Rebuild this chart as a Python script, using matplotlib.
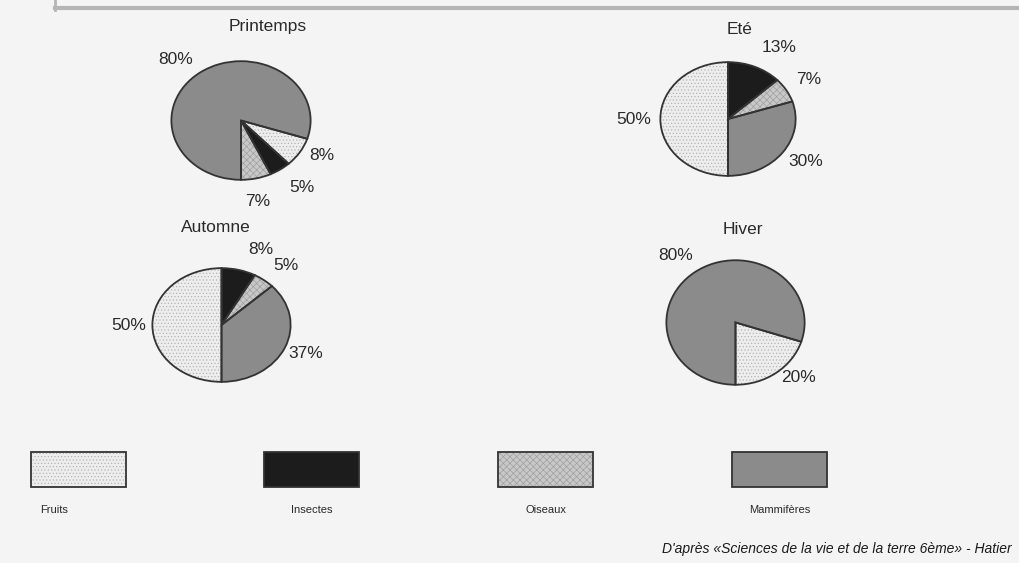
import matplotlib.pyplot as plt
import matplotlib as mpl

# Diet of the animal by season (percent)
categories = ['Fruits', 'Insectes', 'Oiseaux', 'Mammifères']
seasons = ['Printemps', 'Eté', 'Automne', 'Hiver']
printemps = [8, 5, 7, 80]
ete = [50, 13, 7, 30]
automne = [50, 8, 5, 37]
hiver = [20, 0, 0, 80]
source = "D'après «Sciences de la vie et de la terre 6ème» - Hatier"

W, H = 1019, 563
mpl.rcParams['font.family'] = ['Liberation Sans', 'DejaVu Sans']
mpl.rcParams['hatch.linewidth'] = 0.45

face = {'Fruits': '#ededed', 'Insectes': '#1c1c1c',
        'Oiseaux': '#c8c8c8', 'Mammifères': '#8b8b8b'}
hatch = {'Fruits': '.....', 'Insectes': None, 'Oiseaux': 'xxxxx', 'Mammifères': None}
hatch_col = {'Fruits': '#b0b0b0', 'Insectes': '#1c1c1c',
             'Oiseaux': '#9c9c9c', 'Mammifères': '#8b8b8b'}

fig = plt.figure(figsize=(W / 100, H / 100), dpi=100, facecolor='#f4f4f4')
ax0 = fig.add_axes([0, 0, 1, 1])
ax0.set_xlim(0, W)
ax0.set_ylim(H, 0)
ax0.axis('off')

# faint scan border at the top
ax0.plot([55, W], [8, 8], color='#b5b5b5', lw=3)
ax0.plot([55, 55], [0, 10], color='#b5b5b5', lw=2)

# pie layout: bounding box (x0, y0, x1, y1) in px, start angle, direction, order
layouts = {
    'Printemps': ((170, 60, 312, 181), 270, True, ['Oiseaux', 'Insectes', 'Fruits', 'Mammifères']),
    'Eté': ((659, 61, 797, 177), 90, False, ['Insectes', 'Oiseaux', 'Mammifères', 'Fruits']),
    'Automne': ((151, 267, 292, 383), 90, False, ['Insectes', 'Oiseaux', 'Mammifères', 'Fruits']),
    'Hiver': ((665, 259, 806, 386), 270, True, ['Fruits', 'Mammifères']),
}
values = {'Printemps': printemps, 'Eté': ete, 'Automne': automne, 'Hiver': hiver}

for season in seasons:
    (x0, y0, x1, y1), start, ccw, order = layouts[season]
    ax = fig.add_axes([x0 / W, 1 - y1 / H, (x1 - x0) / W, (y1 - y0) / H])
    vals = [values[season][categories.index(c)] for c in order]
    wedges, _ = ax.pie(vals, startangle=start, counterclock=ccw, radius=1,
                       colors=[face[c] for c in order],
                       wedgeprops=dict(linewidth=0))
    for w, c in zip(wedges, order):
        w.set_edgecolor(hatch_col[c])
        if hatch[c]:
            w.set_hatch(hatch[c])
    ax.pie(vals, startangle=start, counterclock=ccw, radius=1,
           colors=['none'] * len(vals),
           wedgeprops=dict(linewidth=1.3, edgecolor='#333333'))
    ax.set_aspect('auto')
    ax.set_xlim(-1.02, 1.02)
    ax.set_ylim(-1.02, 1.02)
    ax.axis('off')

# titles
title_pos = {'Printemps': (268, 27), 'Eté': (740, 30), 'Automne': (216, 228), 'Hiver': (743, 229)}
for s in seasons:
    ax0.text(*title_pos[s], s, ha='center', va='center', fontsize=12.5, color='#2a2a2a')

# percentage labels (positions by season and category)
label_pos = {
    'Printemps': {'Mammifères': (176, 60), 'Fruits': (322, 156), 'Insectes': (302, 188), 'Oiseaux': (258, 202)},
    'Eté': {'Insectes': (779, 48), 'Oiseaux': (809, 79), 'Fruits': (634, 119), 'Mammifères': (806, 162)},
    'Automne': {'Insectes': (261, 249), 'Oiseaux': (286, 265), 'Fruits': (129, 325), 'Mammifères': (306, 354)},
    'Hiver': {'Mammifères': (676, 256), 'Fruits': (799, 378)},
}
for s in seasons:
    for c, pos in label_pos[s].items():
        v = values[s][categories.index(c)]
        ax0.text(*pos, f'{v}%', ha='center', va='center', fontsize=12.5, color='#2a2a2a')

# legend boxes and labels
legend_x = [79, 312, 546, 780]
ax0.bar(legend_x, [35] * 4, bottom=[452] * 4, width=95,
        color=[face[c] for c in categories], edgecolor='#333333', linewidth=1.3)
for xc, c in zip(legend_x, categories):
    if hatch[c]:
        ax0.bar(xc, 33, bottom=453, width=93, color='none', linewidth=0,
                hatch=hatch[c], edgecolor=hatch_col[c])
    ax0.text(xc - 25 if c == 'Fruits' else xc, 510, c, ha='center', va='center',
             fontsize=8, color='#2a2a2a')

ax0.text(662, 549, source, ha='left', va='center', fontsize=10,
         style='italic', color='#1a1a1a')

fig.savefig('out.png', dpi=100, facecolor=fig.get_facecolor())
